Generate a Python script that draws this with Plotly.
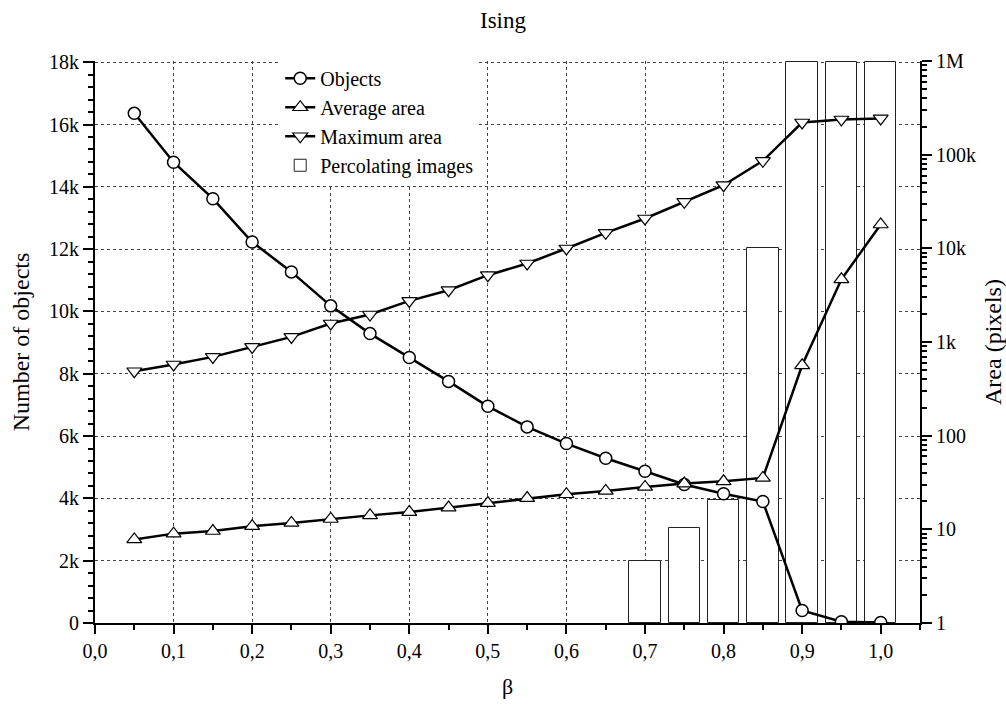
import plotly.graph_objects as go

# beta values
beta = [0.05, 0.10, 0.15, 0.20, 0.25, 0.30, 0.35, 0.40, 0.45, 0.50,
        0.55, 0.60, 0.65, 0.70, 0.75, 0.80, 0.85, 0.90, 0.95, 1.00]

# number of objects (left axis)
objects = [16360, 14790, 13620, 12230, 11270, 10180, 9290, 8520, 7755, 6955,
           6295, 5760, 5290, 4870, 4445, 4150, 3900, 400, 40, 15]

# average and maximum area in pixels (right, log axis)
avg_area = [7.8, 9.0, 9.6, 10.8, 11.7, 12.9, 14.1, 15.3, 17.1, 19.1,
            21.6, 23.7, 25.7, 28.4, 30.8, 32.6, 35.4, 564, 4680, 18000]
max_area = [488, 576, 694, 887, 1135, 1578, 1968, 2750, 3578, 5176,
            6900, 9980, 14650, 20860, 31400, 47300, 86000, 221000, 238000, 244000]

# percolating images (bars, left axis scale)
perc_beta = [0.70, 0.75, 0.80, 0.85, 0.90, 0.95, 1.00]
perc_vals = [1980, 3045, 3955, 12030, 18000, 18000, 18000]

left_ticks = [0, 2000, 4000, 6000, 8000, 10000, 12000, 14000, 16000, 18000]
left_labels = ["0", "2k", "4k", "6k", "8k", "10k", "12k", "14k", "16k", "18k"]
right_ticks = [1, 10, 100, 1000, 10000, 100000, 1000000]
right_labels = ["1", "10", "100", "1k", "10k", "100k", "1M"]

FONT = "Liberation Serif, Times New Roman, serif"
LW = 2.5

fig = go.Figure()

fig.add_trace(go.Bar(
    x=perc_beta, y=perc_vals, width=0.04, name="Percolating images",
    marker=dict(color="white", line=dict(color="#222222", width=1)),
    legendrank=4, yaxis="y",
))

fig.add_trace(go.Scatter(
    x=beta, y=objects, name="Objects", mode="lines+markers", yaxis="y",
    line=dict(color="black", width=LW),
    marker=dict(symbol="circle", size=12, color="white",
                line=dict(color="black", width=1.5)),
    legendrank=1,
))
fig.add_trace(go.Scatter(
    x=beta, y=avg_area, name="Average area", mode="lines+markers", yaxis="y2",
    line=dict(color="black", width=LW),
    marker=dict(symbol="triangle-up", size=13, color="white",
                line=dict(color="black", width=1.2)),
    legendrank=2,
))
fig.add_trace(go.Scatter(
    x=beta, y=max_area, name="Maximum area", mode="lines+markers", yaxis="y2",
    line=dict(color="black", width=LW),
    marker=dict(symbol="triangle-down", size=13, color="white",
                line=dict(color="black", width=1.2)),
    legendrank=3,
))

fig.update_layout(
    width=1006, height=708,
    margin=dict(l=95, r=86, t=61, b=85),
    paper_bgcolor="white", plot_bgcolor="white",
    font=dict(family=FONT, size=20, color="black"),
    separators=",.",
    showlegend=True,
    bargap=0,
    title=dict(text="Ising", x=0.5, xanchor="center", y=0.972, yanchor="middle",
               font=dict(size=23, family=FONT)),
    legend=dict(x=0.2245, y=1.004, xanchor="left", yanchor="top",
                bgcolor="white", borderwidth=0, font=dict(size=20, family=FONT),
                tracegroupgap=0),
    xaxis=dict(
        range=[0, 1.05], tickmode="array",
        tickvals=[0.0, 0.1, 0.2, 0.3, 0.4, 0.5, 0.6, 0.7, 0.8, 0.9, 1.0],
        tickformat=".1f", automargin=False,
        ticks="outside", ticklen=9, tickwidth=2, tickcolor="black",
        showline=True, linecolor="black", linewidth=2,
        showgrid=True, gridcolor="#444444", gridwidth=1, griddash="dot",
        zeroline=False, mirror=False,
        minor=dict(tickvals=[0.05, 0.15, 0.25, 0.35, 0.45, 0.55, 0.65, 0.75,
                             0.85, 0.95, 1.05],
                   ticks="outside", ticklen=5, tickwidth=2, tickcolor="black",
                   showgrid=False),
        title=dict(text="β", font=dict(size=22, family=FONT), standoff=18),
        tickfont=dict(size=20, family=FONT),
    ),
    yaxis=dict(
        range=[0, 18040], tickmode="array", tickvals=left_ticks, ticktext=left_labels,
        automargin=False,
        ticks="outside", ticklen=10, tickwidth=2, tickcolor="black",
        showline=True, linecolor="black", linewidth=2,
        showgrid=True, gridcolor="#444444", gridwidth=1, griddash="dot",
        zeroline=False,
        minor=dict(dtick=400, ticks="outside", ticklen=5, tickwidth=2,
                   tickcolor="black", showgrid=False),
        title=dict(text="Number of objects", font=dict(size=24, family=FONT), standoff=13),
        tickfont=dict(size=20, family=FONT),
    ),
    yaxis2=dict(
        type="log", range=[0, 6.001], overlaying="y", side="right",
        tickmode="array", tickvals=right_ticks, ticktext=right_labels,
        automargin=False,
        ticks="outside", ticklen=10, tickwidth=2, tickcolor="black",
        showline=True, linecolor="black", linewidth=2,
        showgrid=False, zeroline=False,
        minor=dict(dtick="D1", ticks="outside", ticklen=5, tickwidth=2,
                   tickcolor="black", showgrid=False),
        title=dict(text="Area (pixels)", font=dict(size=24, family=FONT), standoff=16),
        tickfont=dict(size=20, family=FONT),
    ),
)

fig.write_html("out.html")
